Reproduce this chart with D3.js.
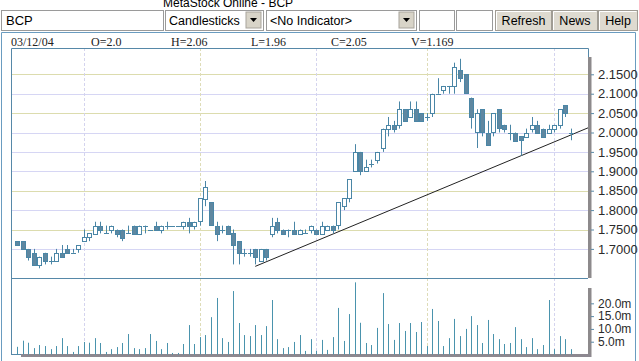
<!DOCTYPE html>
<html><head><meta charset="utf-8">
<script src="https://cdn.jsdelivr.net/npm/d3@7"></script>
<style>
body{margin:0;background:#fff;}
svg{display:block;}
</style></head><body>
<svg id="c" width="639" height="361"></svg>
<script>
// ---- data ----
const opens  = [1.72,1.72,1.70,1.69,1.66,1.69,1.67,1.67,1.69,1.70, 1.69,1.70,1.72,1.73,1.74,1.76,1.74,1.75,1.75,1.75, 1.74,1.76,1.74,1.76,1.75,1.76,1.75,1.76,1.76,1.76, 1.76,1.77,1.76,1.77,1.83,1.82,1.76,1.75,1.76,1.74, 1.72,1.69,1.69,1.70,1.67,1.70,1.74,1.77,1.75,1.75, 1.75,1.74,1.74,1.75,1.75,1.74,1.75,1.76,1.76,1.81, 1.83,1.90,1.95,1.90,1.92,1.93,1.96,2.01,2.02,2.02, 2.06,2.04,2.06,2.05,2.04,2.05,2.10,2.11,2.12,2.12, 2.16,2.15,2.09,2.00,2.06,2.00,2.00,2.06,2.02,2.00, 2.00,1.99,1.99,2.01,2.02,2.01,2.00,2.01,2.02,2.07, 2.00];
const highs  = [1.72,1.72,1.70,1.70,1.68,1.69,1.68,1.70,1.71,1.71, 1.70,1.71,1.75,1.74,1.77,1.77,1.76,1.76,1.75,1.75, 1.76,1.76,1.76,1.76,1.75,1.77,1.76,1.77,1.76,1.76, 1.77,1.78,1.77,1.83,1.875,1.82,1.77,1.76,1.76,1.75, 1.72,1.70,1.70,1.70,1.70,1.70,1.78,1.78,1.75,1.75, 1.77,1.75,1.75,1.76,1.75,1.77,1.76,1.76,1.82,1.83, 1.88,1.97,1.95,1.93,1.93,1.95,2.01,2.04,2.03,2.08, 2.06,2.08,2.08,2.05,2.05,2.10,2.14,2.12,2.12,2.18, 2.19,2.15,2.09,2.06,2.06,2.03,2.05,2.06,2.02,2.02, 2.00,1.99,2.01,2.04,2.03,2.01,2.02,2.02,2.06,2.07, 2.01];
const lows   = [1.71,1.70,1.67,1.66,1.65,1.66,1.66,1.67,1.68,1.69, 1.69,1.69,1.72,1.72,1.74,1.74,1.74,1.74,1.73,1.72, 1.74,1.74,1.74,1.74,1.75,1.75,1.74,1.75,1.76,1.76, 1.75,1.74,1.75,1.76,1.81,1.76,1.72,1.74,1.74,1.66, 1.66,1.68,1.68,1.66,1.67,1.67,1.73,1.74,1.74,1.73, 1.74,1.74,1.74,1.74,1.74,1.74,1.75,1.74,1.75,1.80, 1.82,1.90,1.89,1.90,1.91,1.92,1.95,1.99,2.00,2.01, 2.03,2.04,2.03,2.03,2.03,2.04,2.10,2.10,2.10,2.10, 2.13,2.10,2.01,1.96,1.99,1.97,1.99,2.00,2.00,1.98, 1.98,1.94,1.99,2.00,2.00,1.99,2.00,2.00,2.01,2.04, 1.98];
const closes = [1.71,1.70,1.68,1.66,1.68,1.67,1.67,1.69,1.68,1.69, 1.69,1.71,1.73,1.74,1.76,1.75,1.74,1.76,1.74,1.73, 1.74,1.74,1.76,1.76,1.75,1.75,1.76,1.76,1.76,1.76, 1.77,1.76,1.77,1.83,1.86,1.76,1.74,1.75,1.74,1.71, 1.69,1.69,1.69,1.68,1.70,1.68,1.76,1.75,1.74,1.75, 1.74,1.75,1.74,1.76,1.74,1.76,1.76,1.75,1.82,1.83, 1.88,1.95,1.90,1.91,1.92,1.95,2.01,2.02,2.01,2.06, 2.03,2.06,2.03,2.03,2.04,2.10,2.10,2.12,2.12,2.17, 2.14,2.10,2.04,2.05,2.00,1.97,2.05,2.01,2.01,2.00, 1.98,1.98,2.00,2.02,2.00,1.99,2.01,2.02,2.06,2.05, 2.00];
const volumes = [3.0,5.4,4.6,2.5,3.7,3.3,2.1,3.3,6.4,3.3, 1.0,3.3,4.9,4.6,6.4,4.5,1.0,2.1,2.9,4.5, 8.0,2.5,2.1,2.5,8.0,5.3,2.1,4.5,0.6,0.6, 4.1,11.5,4.1,6.8,7.6,14.6,22.1,6.4,4.9,24.8, 12.3,7.6,7.2,11.5,7.6,11.1,21.3,6.0,2.5,2.9, 4.9,7.6,1.4,6.0,1.4,5.7,1.8,6.8,18.2,5.3, 15.8,28.2,12.4,4.5,3.7,10.4,24.0,11.9,5.7,12.3, 9.2,12.3,8.8,12.7,3.3,17.8,13.1,3.3,6.4,13.9, 7.2,10.0,15.0,11.5,4.5,13.5,8.0,6.0,4.1,4.5, 10.7,6.0,2.9,6.4,2.1,3.7,21.3,2.1,7.2,6.0, 2.1];
const priceTicks = [2.15,2.10,2.05,2.00,1.95,1.90,1.85,1.80,1.75,1.70];
const priceGridTone = ["y","l","y","l","l","l","y","l","y","l"];
const volumeTicks = [5,10,15,20];
const monthStartIdx = [12,33,54,74,97];
const trendIdx = [43,91];
const trendVal = [1.655,1.94];
const headerLabels = ["03/12/04","O=2.0","H=2.06","L=1.96","C=2.05","V=1.169"];
const buttons = ["Refresh","News","Help"];

// ---- drawing ----
const svg = d3.select("#c");
const L = 11, R = 588, PT = 48, PB = 278, VB = 354.5;
const blue = "#4a86a6", frame = "#5688a8";

const x = d3.scaleLinear().domain([0, opens.length - 1]).range([17.3, 570.7]);
const yP = d3.scaleLinear().domain([1.625, 2.2178]).range([PB, PT]);
const yV = d3.scaleLinear().domain([0, 29.9]).range([VB, PB]);

// toolbar
svg.append("text").attr("x",163).attr("y",7).attr("font-family","Liberation Sans, Arial").attr("font-size",12).attr("fill","#000").text("MetaStock Online - BCP");
function box(x0,y0,w,h){
  svg.append("rect").attr("x",x0+0.5).attr("y",y0+0.5).attr("width",w).attr("height",h).attr("fill","#fff").attr("stroke","#9a9a9a");
}
box(1,10,162,20);
svg.append("text").attr("x",6).attr("y",25).attr("font-family","Liberation Sans, Arial").attr("font-size",13).text("BCP");
function select(x0,w,label){
  box(x0,10,w,20);
  svg.append("text").attr("x",x0+4).attr("y",25).attr("font-family","Liberation Sans, Arial").attr("font-size",12.5).text(label);
  const bx = x0+w-17;
  svg.append("rect").attr("x",bx).attr("y",12).attr("width",15).attr("height",16).attr("fill","#d8d4c8").attr("stroke","#a8a49c");
  svg.append("path").attr("d",`M${bx+4},${18}L${bx+11},${18}L${bx+7.5},${22}Z`).attr("fill","#000");
}
select(165,98,"Candlesticks");
select(266,150,"<No Indicator>");
box(419,10,35,20);
box(456,10,36,20);
const btnX = [495,552,598], btnW = [56,45,39];
buttons.forEach((b,i)=>{
  const g = svg.append("g");
  g.append("rect").attr("x",btnX[i]+0.5).attr("y",10.5).attr("width",btnW[i]).attr("height",20).attr("fill","#dedad0").attr("stroke","#a09c94");
  g.append("path").attr("d",`M${btnX[i]+1.5},${30}V${11.5}H${btnX[i]+btnW[i]-0.5}`).attr("fill","none").attr("stroke","#fff");
  g.append("text").attr("x",btnX[i]+btnW[i]/2+0.5).attr("y",25).attr("text-anchor","middle").attr("font-family","Liberation Sans, Arial").attr("font-size",12.5).text(b);
});

// outer info panel
svg.append("path").attr("d","M1.5,361V32.5H635.5V361").attr("fill","none").attr("stroke","#6a9cc0");
headerLabels.forEach((t,i)=>{
  svg.append("text").attr("x",11+i*80).attr("y",46).attr("font-family","Liberation Serif, Times New Roman").attr("font-size",12).attr("fill","#222").text(t);
});

// grid
const grid = svg.append("g");
priceTicks.forEach((t,i)=>{
  const yy = Math.round(yP(t))+0.5;
  grid.append("line").attr("x1",L).attr("x2",R).attr("y1",yy).attr("y2",yy)
    .attr("stroke", priceGridTone[i]==="y" ? "#dcdcae" : "#d6d6f4");
});
monthStartIdx.forEach((m,i)=>{
  const xx = Math.round(x(m))+0.5;
  grid.append("line").attr("x1",xx).attr("x2",xx).attr("y1",PT).attr("y2",VB)
    .attr("stroke", i%2 ? "#dedcb8" : "#d4d4ee").attr("stroke-dasharray","3,2");
});

// frames
svg.append("path").attr("d",`M${L+0.5},${VB}V${PT+0.5}H${R+0.5}V${PB}`).attr("fill","none").attr("stroke",frame);
svg.append("line").attr("x1",L).attr("x2",R).attr("y1",PB+0.5).attr("y2",PB+0.5).attr("stroke",frame);
svg.append("line").attr("x1",L).attr("x2",22).attr("y1",VB).attr("y2",VB).attr("stroke",frame);
svg.append("rect").attr("x",588).attr("y",57).attr("width",3.5).attr("height",PB-57).attr("fill","#8d8a8c");
svg.append("rect").attr("x",588).attr("y",288).attr("width",3.5).attr("height",69).attr("fill","#8d8a8c");
svg.append("rect").attr("x",21).attr("y",354).attr("width",570).attr("height",3).attr("fill","#8d8890");

// trendline
const slope = (trendVal[1]-trendVal[0])/(trendIdx[1]-trendIdx[0]);
const lastIdx = x.invert(R);
svg.append("line")
  .attr("x1",x(trendIdx[0])).attr("y1",yP(trendVal[0]))
  .attr("x2",x(lastIdx)).attr("y2",yP(trendVal[0]+slope*(lastIdx-trendIdx[0])))
  .attr("stroke","#222").attr("stroke-width",1);

// candles
const idx = d3.range(opens.length);
const cg = svg.append("g");
idx.forEach(i=>{
  const cx = Math.round(x(i))+0.5;
  cg.append("line").attr("x1",cx).attr("x2",cx).attr("y1",yP(highs[i])).attr("y2",yP(lows[i])).attr("stroke",blue);
  const yo = yP(opens[i]), yc = yP(closes[i]);
  const top = Math.min(yo,yc), h = Math.abs(yo-yc);
  if (h < 1) {
    cg.append("line").attr("x1",cx-2.5).attr("x2",cx+2.5).attr("y1",Math.round(yc)+0.5).attr("y2",Math.round(yc)+0.5).attr("stroke",blue);
  } else {
    cg.append("rect").attr("x",cx-2).attr("y",Math.round(top)+0.5).attr("width",4).attr("height",Math.round(h))
      .attr("fill", closes[i] < opens[i] ? "#5f87a0" : "#fff").attr("stroke",blue);
  }
});

// volume bars
svg.append("g").selectAll("line").data(idx).join("line")
  .attr("x1",i=>Math.round(x(i))+0.5).attr("x2",i=>Math.round(x(i))+0.5)
  .attr("y1",yV(0)).attr("y2",i=>yV(volumes[i])).attr("stroke","#4a93ad");

// axes
const ax = svg.append("g").attr("transform","translate(591,0)")
  .call(d3.axisRight(yP).tickValues(priceTicks).tickSize(3).tickPadding(4).tickFormat(d3.format(".4f")));
const av = svg.append("g").attr("transform","translate(591,0)")
  .call(d3.axisRight(yV).tickValues(volumeTicks).tickSize(3).tickPadding(4).tickFormat(d=>d.toFixed(1)+"m"));
[ax,av].forEach(a=>{
  a.select(".domain").remove();
  a.selectAll(".tick line").attr("stroke","#5a8aa8");
  a.selectAll(".tick text").attr("font-family","Liberation Sans, Arial").attr("font-size",13).attr("fill","#2a2a2a");
});
av.selectAll(".tick text").attr("font-size",12);
</script>
</body></html>
